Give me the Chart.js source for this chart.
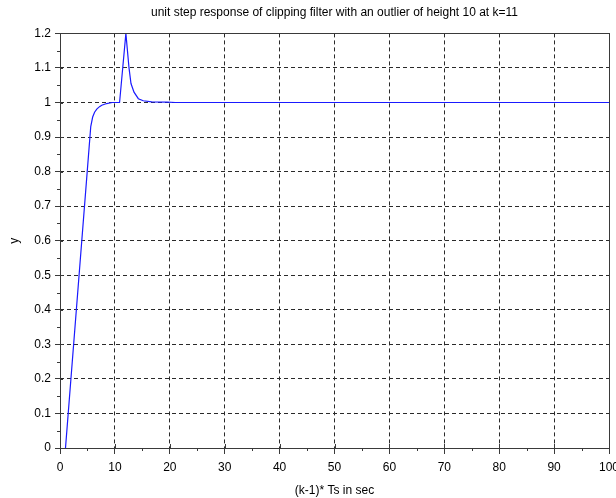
<!DOCTYPE html>
<html>
<head>
<meta charset="utf-8">
<title>clipping filter step response</title>
<script src="https://cdn.jsdelivr.net/npm/chart.js@4/dist/chart.umd.min.js"></script>
<style>
  html, body { margin: 0; padding: 0; background: #fff; }
  #wrap { width: 616px; height: 498px; }
</style>
</head>
<body>
<div id="wrap"><canvas id="stepChart" width="616" height="498"></canvas></div>
<script>
// filter output y against (k-1)*Ts, points placed where the curve bends
const timeSec = [1, 5.6, 5.95, 6.3, 6.7, 7.2, 7.6, 8.5, 9.5, 10.85, 12, 12.57, 12.93, 13.48, 14.27, 15.17, 16.7, 19.5, 21, 100];
const outputY = [0, 0.93, 0.958, 0.972, 0.981, 0.988, 0.992, 0.997, 1, 1, 1.2, 1.1, 1.055, 1.03, 1.011, 1.005, 1.002, 1.001, 1, 1];

const xTicks = [0, 10, 20, 30, 40, 50, 60, 70, 80, 90, 100];
const xMinor = [5, 15, 25, 35, 45, 55, 65, 75, 85, 95];
const yTicks = [0, 0.1, 0.2, 0.3, 0.4, 0.5, 0.6, 0.7, 0.8, 0.9, 1, 1.1, 1.2];
const yTickLabels = ['0', '0.1', '0.2', '0.3', '0.4', '0.5', '0.6', '0.7', '0.8', '0.9', '1', '1.1', '1.2'];
const yMinor = [0.05, 0.15, 0.25, 0.35, 0.45, 0.55, 0.65, 0.75, 0.85, 0.95, 1.05, 1.15];

const FONT = 'Liberation Sans, Arial, sans-serif';
const axisColor = '#3a3a3a';
const gridColor = '#2a2a2a';

// box around the plot, inner stubs of the major ticks and the minor ticks
const frameAndMinor = {
  id: 'frameAndMinor',
  afterDraw(chart) {
    const { ctx, chartArea: a, scales: { x, y } } = chart;
    ctx.save();
    ctx.strokeStyle = axisColor;
    ctx.lineWidth = 1;
    ctx.beginPath();
    xMinor.forEach(v => {
      const px = Math.round(x.getPixelForValue(v)) + 0.5;
      ctx.moveTo(px, a.bottom);
      ctx.lineTo(px, a.bottom + 3);
    });
    xTicks.forEach(v => {
      const px = Math.round(x.getPixelForValue(v)) + 0.5;
      ctx.moveTo(px, a.bottom - 4);
      ctx.lineTo(px, a.bottom);
    });
    yMinor.forEach(v => {
      const py = Math.round(y.getPixelForValue(v)) + 0.5;
      ctx.moveTo(a.left - 3, py);
      ctx.lineTo(a.left, py);
    });
    yTicks.forEach(v => {
      const py = Math.round(y.getPixelForValue(v)) + 0.5;
      ctx.moveTo(a.left, py);
      ctx.lineTo(a.left + 3, py);
    });
    ctx.stroke();
    ctx.strokeRect(Math.round(a.left) + 0.5, Math.round(a.top) + 0.5,
      Math.round(a.right - a.left), Math.round(a.bottom - a.top));
    ctx.restore();
  }
};

new Chart(document.getElementById('stepChart'), {
  type: 'line',
  data: {
    datasets: [{
      data: timeSec.map((t, i) => ({ x: t, y: outputY[i] })),
      borderColor: '#1a1aff',
      borderWidth: 1.2,
      pointRadius: 0,
      tension: 0,
      fill: false
    }]
  },
  options: {
    responsive: false,
    animation: false,
    layout: { padding: { right: 7 } },
    plugins: {
      legend: { display: false },
      tooltip: { enabled: false },
      title: {
        display: true,
        fullSize: false,
        text: 'unit step response of clipping filter with an outlier of height 10 at k=11',
        color: '#000',
        font: { family: FONT, size: 12, weight: 'normal' },
        padding: { top: 5, bottom: 14 }
      }
    },
    scales: {
      x: {
        type: 'linear',
        min: 0,
        max: 100,
        afterBuildTicks: s => { s.ticks = xTicks.map(v => ({ value: v })); },
        afterFit: s => { s.height = 50; s.paddingLeft = 0; s.paddingRight = 0; },
        ticks: {
          color: '#000',
          font: { family: FONT, size: 12 },
          padding: 6,
          maxRotation: 0,
          autoSkip: false
        },
        grid: {
          color: gridColor,
          lineWidth: 1,
          tickLength: 6,
          tickColor: axisColor,
          tickBorderDash: []
        },
        border: { display: false, dash: [4, 3] },
        title: {
          display: true,
          text: '(k-1)* Ts in sec',
          color: '#000',
          font: { family: FONT, size: 12 },
          padding: { top: 0, bottom: 0 }
        }
      },
      y: {
        type: 'linear',
        min: 0,
        max: 1.2,
        afterBuildTicks: s => { s.ticks = yTicks.map(v => ({ value: v })); },
        afterFit: s => { s.width = 60; s.paddingTop = 0; s.paddingBottom = 0; },
        ticks: {
          color: '#000',
          font: { family: FONT, size: 12 },
          padding: 4,
          autoSkip: false,
          callback: (v, i) => yTickLabels[i]
        },
        grid: {
          color: gridColor,
          lineWidth: 1,
          tickLength: 5,
          tickColor: axisColor,
          tickBorderDash: []
        },
        border: { display: false, dash: [4, 3] },
        title: {
          display: true,
          text: 'y',
          color: '#000',
          font: { family: FONT, size: 12 },
          padding: { top: 7, bottom: 0 }
        }
      }
    }
  },
  plugins: [frameAndMinor]
});
</script>
</body>
</html>
